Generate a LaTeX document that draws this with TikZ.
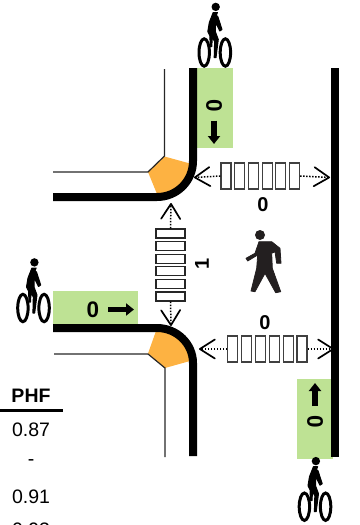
\documentclass[tikz,border=0pt]{standalone}
\usepackage{fontspec}
\setmainfont{Liberation Sans}
\usetikzlibrary{arrows.meta}
\definecolor{curbfill}{HTML}{FDB242}
\definecolor{lanefill}{HTML}{BEE294}
\definecolor{walker}{HTML}{231F20}
\tikzset{
  curb/.style={line width=8pt,black},
  kerb/.style={line width=1.2pt,black!85},
  corner/.style={fill=curbfill,draw=none},
  lane/.style={fill=lanefill,draw=none},
  count/.style={font=\bfseries\fontsize{20}{20}\selectfont,inner sep=0pt},
  lanecount/.style={font=\bfseries\fontsize{22.5}{22.5}\selectfont,inner sep=0pt},
  cell/.style={font=\fontsize{19.5}{19.5}\selectfont,inner sep=0pt},
  hbar/.style={draw=black!75,line width=1.2pt,fill=white,minimum width=10pt,minimum height=26pt,inner sep=0pt},
  vbar/.style={draw=black!85,line width=1.2pt,fill=white,minimum width=29pt,minimum height=9pt,inner sep=0pt},
  ped/.style={line width=1.5pt,dash pattern=on 1.5pt off 1.5pt,-{Straight Barb[length=15pt,width=19pt,line width=1.7pt,round]}},
  flow/.style={line width=6pt,-{Triangle[length=8pt,width=12pt]}},
  cyclist/.pic={
    \draw[line width=3pt] (-10.6,0) ellipse[x radius=5.2,y radius=13.7];
    \draw[line width=3pt] (10.6,0) ellipse[x radius=5.2,y radius=13.7];
    \fill (0.9,-45.6) circle[radius=4.2];
    \filldraw[line width=1pt,line join=round] (-1.6,-40) -- (2.6,-40) -- (1.5,-37) -- (3,-36) -- (7.2,-23) -- (5,-21.5) -- (0.8,-30) -- (0.5,-21) -- (3.5,-13) -- (1.2,5) -- (-0.6,5) -- (-0.2,-11) -- (-2.5,-15) -- (-3,-6) -- (-4.5,-6) -- (-5,-17) -- (-7,-21) -- (-5.5,-30) -- cycle;
  }
}
\begin{document}
\begin{tikzpicture}[x=1pt,y=-1pt]
\useasboundingbox (0,0) rectangle (359,525);
\clip (0,0) rectangle (359,525);
% green lanes
\fill[lane] (197,68) rectangle (233,148);
\fill[lane] (53,291) rectangle (138,324);
\fill[lane] (297,379) rectangle (333,459);
% corners
\fill[corner] (148,172) -- (164.5,156.5) -- (190,163.5) .. controls (188,180) and (175,194) .. (157,194) -- cycle;
\fill[corner] (156,331) -- (148,353.5) -- (165,368) -- (190,361) .. controls (188,345) and (175,331) .. (156,331) -- cycle;
% thin kerbs
\draw[kerb] (53,172) -- (148,172) -- (164.5,156) -- (164.5,69);
\draw[kerb] (54,354) -- (148,354) -- (165,368) -- (165,457);
% thick kerbs
\draw[curb] (53,197) -- (157,197) .. controls (177,197) and (193,181) .. (193,161) -- (193,68);
\draw[curb] (53,328) -- (157,328) .. controls (177,328) and (193,344) .. (193,363) -- (193,456);
\draw[curb] (335,68) -- (335,457);
% crosswalk, top
\foreach \i in {0,...,5} \node[hbar] (t\i) at ({226+\i*13.7},176) {};
\coordinate (tl) at (194,177.5);
\coordinate (tr) at (330,177.5);
\draw[ped] (t0.west) -- (tl);
\draw[ped] (t5.east) -- (tr);
% crosswalk, bottom
\foreach \i in {0,...,5} \node[hbar] (b\i) at ({232.7+\i*13.85},349) {};
\coordinate (bl) at (199,349);
\coordinate (br) at (334,349);
\draw[ped] (b0.west) -- (bl);
\draw[ped] (b5.east) -- (br);
% crosswalk, left
\foreach \i in {0,...,5} \node[vbar] (l\i) at (170.5,{233.5+\i*12.6}) {};
\coordinate (lt) at (171,203);
\coordinate (lb) at (171,326);
\draw[ped] (l0.north) -- (lt);
\draw[ped] (l5.south) -- (lb);
% counts
\node[count] (ctop) at (263,205) {0};
\node[count] (cbot) at (265,323) {0};
\node[count,rotate=90] (cleft) at (202,264) {1};
\node[lanecount,rotate=-90] (ln) at (214,105.5) {0};
\node[lanecount] (lw) at (93,310) {0};
\node[lanecount,rotate=-90] (ls) at (315,421.5) {0};
% flow arrows
\coordinate (fn1) at (214,120.5); \coordinate (fn2) at (214,144);
\coordinate (fw1) at (108,309.5); \coordinate (fw2) at (134,309.5);
\coordinate (fs1) at (315,406); \coordinate (fs2) at (315,383);
\draw[flow] (fn1) -- (fn2);
\draw[flow,line width=5.5pt] (fw1) -- (fw2);
\draw[flow] (fs1) -- (fs2);
% pedestrian
\fill[walker] (260,235) circle[radius=5];
\filldraw[walker,line width=0.8pt,line join=round] (259,241.7) -- (271.7,241.7) -- (280,248.3) -- (281,263.3) -- (276.7,263.3) -- (275,251.7) -- (271.7,253.3) -- (272.3,268.3) -- (280.7,291.7) -- (275.7,292.7) -- (265,273.3) -- (255,291.7) -- (251,291) -- (256.7,268.3) -- (257.7,255) -- (247.7,261) -- (246,258.3) -- (255,253.3) -- cycle;
% cyclists
\pic at (214.8,52.5) {cyclist};
\pic at (33.5,308) {cyclist};
\pic at (315,506.7) {cyclist};
% table
\node[cell,font=\bfseries\fontsize{19.5}{19.5}\selectfont] (phf) at (31,396) {PHF};
\coordinate (ruleL) at (0,410.5); \coordinate (ruleR) at (63,410.5);
\draw[line width=2.5pt] (ruleL) -- (ruleR);
\node[cell] (r1) at (31,430) {0.87};
\node[cell] (r2) at (31,463) {-};
\node[cell] (r3) at (31,496.5) {0.91};
\node[cell] (r4) at (31,530) {0.93};
\end{tikzpicture}
\end{document}
